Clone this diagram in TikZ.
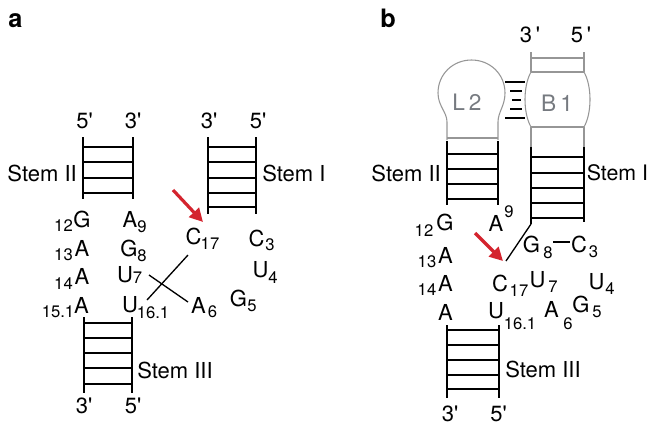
\documentclass[tikz,border=0pt]{standalone}
\usepackage{fontspec}
\setmainfont{TeX Gyre Heros}[Ligatures=TeXOff]
\usetikzlibrary{arrows.meta}
\definecolor{cutred}{RGB}{212,36,46}
\definecolor{softgray}{RGB}{150,150,150}
\definecolor{textgray}{RGB}{118,122,128}

\tikzset{
  nt/.style={inner sep=0pt, font=\fontsize{16.5}{18}\selectfont},
  idx/.style={inner sep=0pt, font=\fontsize{12.5}{14}\selectfont},
  lbl/.style={inner sep=0pt, font=\fontsize{16.5}{18}\selectfont},
  panel/.style={inner sep=0pt, anchor=base west, font=\fontsize{19}{21}\selectfont\bfseries},
  domlabel/.style={inner sep=0pt, text=textgray, font=\fontsize{17}{19}\selectfont},
  rail/.style={line width=1.3pt},
  rung/.style={line width=1.15pt},
  soft/.style={draw=softgray, line width=0.8pt},
  pairbar/.style={line width=1pt},
  link/.style={line width=1pt},
  cutmark/.style={draw=cutred, line width=2.4pt,
    -{Triangle[length=10pt,width=10pt]}, fill=cutred}
}

\begin{document}
\begin{tikzpicture}[x=0.75pt,y=-0.75pt]
\useasboundingbox (0,0) rectangle (649,426);

% ================= panel a =================
\node[panel] (pa) at (8,27) {a};

% Stem II
\node[lbl] (a-s2-5) at (84.5,121) {5'};
\node[lbl] (a-s2-3) at (133,121) {3'};
\draw[rail] (83,137) -- (83,199) (133,137) -- (133,199);
\foreach \y in {147,162,178,193} \draw[rung] (83,\y) -- (133,\y);
\node[lbl, anchor=east] (a-s2) at (77,173) {Stem II};

% Stem I
\node[lbl] (a-s1-3) at (209,121) {3'};
\node[lbl] (a-s1-5) at (258,121) {5'};
\draw[rail] (208,137) -- (208,214) (256,137) -- (256,214);
\foreach \y in {147,162,178,193,207} \draw[rung] (208,\y) -- (256,\y);
\node[lbl, anchor=west] (a-s1) at (262,173) {Stem I};

% Stem III
\draw[rail] (84,317) -- (84,393) (132,317) -- (132,393);
\foreach \y in {323,338,353,368,384} \draw[rung] (84,\y) -- (132,\y);
\node[lbl] (a-s3-3) at (84,406) {3'};
\node[lbl] (a-s3-5) at (133,406) {5'};
\node[lbl, anchor=west] (a-s3) at (137,370) {Stem III};

% nucleotides
\node[nt] (a-g12) at (82,219) {G};   \node[idx] (a-g12i) at (63.5,226) {12};
\node[nt] (a-a13) at (82,248) {A};   \node[idx] (a-a13i) at (63.5,255) {13};
\node[nt] (a-a14) at (82,276) {A};   \node[idx] (a-a14i) at (63.5,284) {14};
\node[nt] (a-a15) at (81.5,305) {A}; \node[idx] (a-a15i) at (58,312) {15.1};
\node[nt] (a-a9) at (130,219) {A};   \node[idx] (a-a9i) at (142,227) {9};
\node[nt] (a-g8) at (129,248) {G};   \node[idx] (a-g8i) at (142,256) {8};
\node[nt] (a-u7) at (125,275) {U};   \node[idx] (a-u7i) at (137.5,278) {7};
\node[nt] (a-u16) at (130,305) {U};  \node[idx] (a-u16i) at (153,313) {16.1};
\node[nt] (a-a6) at (198.5,305) {A}; \node[idx] (a-a6i) at (212.5,312) {6};
\node[nt] (a-g5) at (238.5,298) {G}; \node[idx] (a-g5i) at (252,306) {5};
\node[nt] (a-c17) at (193.5,236) {C};\node[idx] (a-c17i) at (210,244) {17};
\node[nt] (a-c3) at (256.5,238) {C}; \node[idx] (a-c3i) at (270,245) {3};
\node[nt] (a-u4) at (260.5,270) {U}; \node[idx] (a-u4i) at (273,278) {4};

% crossing backbone links
\coordinate (a-x1) at (188,255);
\coordinate (a-x2) at (147,300);
\coordinate (a-x3) at (149,275);
\coordinate (a-x4) at (188,302);
\draw[link] (a-x1) -- (a-x2);
\draw[link] (a-x3) -- (a-x4);

% cleavage site
\coordinate (a-tail) at (173,190);
\coordinate (a-tip) at (203,222);
\draw[cutmark] (a-tail) -- (a-tip);

% ================= panel b =================
\node[panel] (pb) at (380,27) {b};

\node[lbl] (b-s1-3) at (530,35) {3\,'};
\node[lbl] (b-s1-5) at (581,35) {5\,'};

% Stem I with bulge B1
\draw[soft] (531,52) -- (531,72) (584,52) -- (584,72);
\draw[soft] (531,58) -- (584,58);
\draw[soft] (531,72) -- (584,72);
\draw[soft] (531,72) .. controls (523,86) and (523,113) .. (531,127);
\draw[soft] (584,72) .. controls (592,86) and (592,113) .. (584,127);
\draw[soft] (531,127) -- (584,127);
\draw[soft] (531,127) -- (531,147) (584,127) -- (584,147);
\node[domlabel] (b-b1) at (557,103) {B\kern3pt 1};
\draw[rail] (584,147) -- (584,222);
\coordinate (b-s1-end) at (531,224);
\draw[rail] (531,147) -- (b-s1-end);
\foreach \y in {157,173,188,203,218} \draw[rung] (531,\y) -- (584,\y);
\node[lbl, anchor=west, font=\fontsize{16}{18}\selectfont] (b-s1) at (586.5,173) {Stem I};

% Stem II with loop L2
\draw[soft] (447,140) -- (447,122)
  .. controls (447,112) and (438,106) .. (438,93)
  .. controls (438,74) and (453,60) .. (471.5,60)
  .. controls (490,60) and (505,74) .. (505,93)
  .. controls (505,106) and (498,112) .. (498,122) -- (498,140);
\draw[soft] (447,138) -- (498,138);
\node[domlabel] (b-l2) at (467,102) {L\kern3pt 2};
\draw[rail] (447,141) -- (447,205) (498,141) -- (498,205);
\foreach \y in {154,169,184,199} \draw[rung] (447,\y) -- (498,\y);
\node[lbl, anchor=east] (b-s2) at (441,173) {Stem II};

% L2-B1 pairing
\draw[pairbar] (505,82) -- (525,82);
\draw[pairbar] (510,91) -- (522,91);
\draw[pairbar] (512,100) -- (521,100);
\draw[pairbar] (510,109) -- (522,109);
\draw[pairbar] (505,118) -- (525,118);

% Stem III
\draw[rail] (447,325) -- (447,398) (499,325) -- (499,398);
\foreach \y in {330,345,360,375,389} \draw[rung] (447,\y) -- (499,\y);
\node[lbl] (b-s3-3) at (450,414) {3'};
\node[lbl] (b-s3-5) at (498.5,414) {5'};
\node[lbl, anchor=west] (b-s3) at (505,369) {Stem III};

% nucleotides
\node[nt] (b-g12) at (445,222) {G};    \node[idx] (b-g12i) at (424,231) {12};
\node[nt] (b-a13) at (445.5,255) {A};  \node[idx] (b-a13i) at (427,262) {13};
\node[nt] (b-a14) at (445.5,283) {A};  \node[idx] (b-a14i) at (427,290) {14};
\node[nt] (b-a15) at (445.5,312) {A};
\node[nt] (b-a9) at (496,223) {A};     \node[idx] (b-a9i) at (509,212) {9};
\node[nt] (b-g8) at (531.5,244) {G};   \node[idx] (b-g8i) at (548,253) {8};
\node[nt] (b-c3) at (579,244) {C};     \node[idx] (b-c3i) at (593.5,252) {3};
\node[nt] (b-c17) at (500,283) {C};    \node[idx] (b-c17i) at (519,291) {17};
\node[nt] (b-u7) at (537.5,280) {U};   \node[idx] (b-u7i) at (553,287) {7};
\node[nt] (b-u4) at (596.5,282) {U};   \node[idx] (b-u4i) at (610,289) {4};
\node[nt] (b-u16) at (496,311) {U};    \node[idx] (b-u16i) at (520,323.5) {16.1};
\node[nt] (b-a6) at (551.5,309) {A};   \node[idx] (b-a6i) at (568,323.5) {6};
\node[nt] (b-g5) at (581,304) {G};     \node[idx] (b-g5i) at (597,311.5) {5};

% G8-C3 pair and backbone link down to C17
\coordinate (b-gc-l) at (553,242);
\coordinate (b-gc-r) at (570,242);
\draw[link] (b-gc-l) -- (b-gc-r);
\coordinate (b-c17-top) at (506,261);
\draw[link] (b-s1-end) -- (b-c17-top);

% cleavage site
\coordinate (b-tail) at (475,233);
\coordinate (b-tip) at (503,261);
\draw[cutmark] (b-tail) -- (b-tip);

\end{tikzpicture}
\end{document}
